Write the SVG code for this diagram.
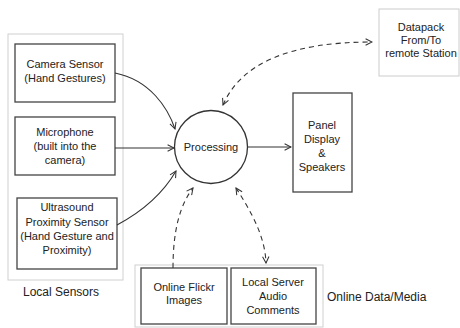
<svg xmlns="http://www.w3.org/2000/svg" width="460" height="328" viewBox="0 0 460 328">
<defs>
<marker id="arr" viewBox="0 0 10 10" refX="9" refY="5" markerWidth="8" markerHeight="8" markerUnits="userSpaceOnUse" orient="auto-start-reverse">
<path d="M1,1 L9,5 L1,9" fill="none" stroke="#333" stroke-width="1.3"/>
</marker>
</defs>
<style>
.box{fill:#fff;stroke:#444;stroke-width:1.3}
.grp{fill:#fff;stroke:#d0d0d0;stroke-width:1}
.t{font-family:"Liberation Sans",Arial,sans-serif;font-size:11px;fill:#222;text-anchor:middle}
.lbl{font-family:"Liberation Sans",Arial,sans-serif;font-size:12px;fill:#222}
.c{fill:none;stroke:#333;stroke-width:1.1}
.d{stroke-dasharray:5,4}
</style>
<rect width="460" height="328" fill="#fff"/>
<g id="local-sensors">
<rect class="grp" x="8" y="34" width="115" height="246"/>
<text class="lbl" x="61" y="296" text-anchor="middle">Local Sensors</text>
</g>
<g id="camera">
<rect class="box" x="15" y="44" width="100" height="58"/>
<text class="t" x="65" y="68">Camera Sensor</text>
<text class="t" x="65" y="82">(Hand Gestures)</text>
</g>
<g id="microphone">
<rect class="box" x="15" y="117" width="100" height="58"/>
<text class="t" x="65" y="136">Microphone</text>
<text class="t" x="65" y="150">(built into the</text>
<text class="t" x="65" y="164">camera)</text>
</g>
<g id="ultrasound">
<rect class="box" x="17" y="198" width="100" height="71"/>
<text class="t" x="67" y="211">Ultrasound</text>
<text class="t" x="67" y="226">Proximity Sensor</text>
<text class="t" x="67" y="240">(Hand Gesture and</text>
<text class="t" x="67" y="254">Proximity)</text>
</g>
<g id="processing">
<circle cx="211" cy="147" r="36.5" fill="#fff" stroke="#333" stroke-width="1.3"/>
<text class="t" x="211" y="151">Processing</text>
</g>
<g id="panel">
<rect class="box" x="293" y="93" width="59" height="99"/>
<text class="t" x="322" y="129">Panel</text>
<text class="t" x="322" y="143">Display</text>
<text class="t" x="322" y="157">&amp;</text>
<text class="t" x="322" y="171">Speakers</text>
</g>
<g id="datapack">
<rect x="379" y="9" width="80" height="67" fill="#fff" stroke="#ccc" stroke-width="1"/>
<text class="t" x="421" y="31">Datapack</text>
<text class="t" x="421" y="44">From/To</text>
<text class="t" x="421" y="57">remote Station</text>
</g>
<g id="online-data">
<rect class="grp" x="135" y="265" width="188" height="62"/>
<text class="lbl" x="327" y="301">Online Data/Media</text>
</g>
<g id="flickr">
<rect class="box" x="141" y="268" width="86" height="56"/>
<text class="t" x="184" y="291">Online Flickr</text>
<text class="t" x="184" y="304">Images</text>
</g>
<g id="local-server">
<rect class="box" x="231" y="268" width="85" height="56"/>
<text class="t" x="273" y="286">Local Server</text>
<text class="t" x="273" y="300">Audio</text>
<text class="t" x="273" y="314">Comments</text>
</g>
<g id="connectors">
<path class="c" d="M115,73 C150,80 168,108 175,129" marker-end="url(#arr)"/>
<path class="c" d="M115,148 L174,148" marker-end="url(#arr)"/>
<path class="c" d="M117,225 C145,210 165,190 176,171" marker-end="url(#arr)"/>
<path class="c" d="M248,147 L291,147" marker-end="url(#arr)"/>
<path class="c d" d="M223,105 Q250,42 372,42" marker-start="url(#arr)" marker-end="url(#arr)"/>
<path class="c d" d="M173,268 C173,230 180,205 193,188" marker-end="url(#arr)"/>
<path class="c d" d="M236,188 C250,210 265,235 266,263" marker-start="url(#arr)" marker-end="url(#arr)"/>
</g>
</svg>
